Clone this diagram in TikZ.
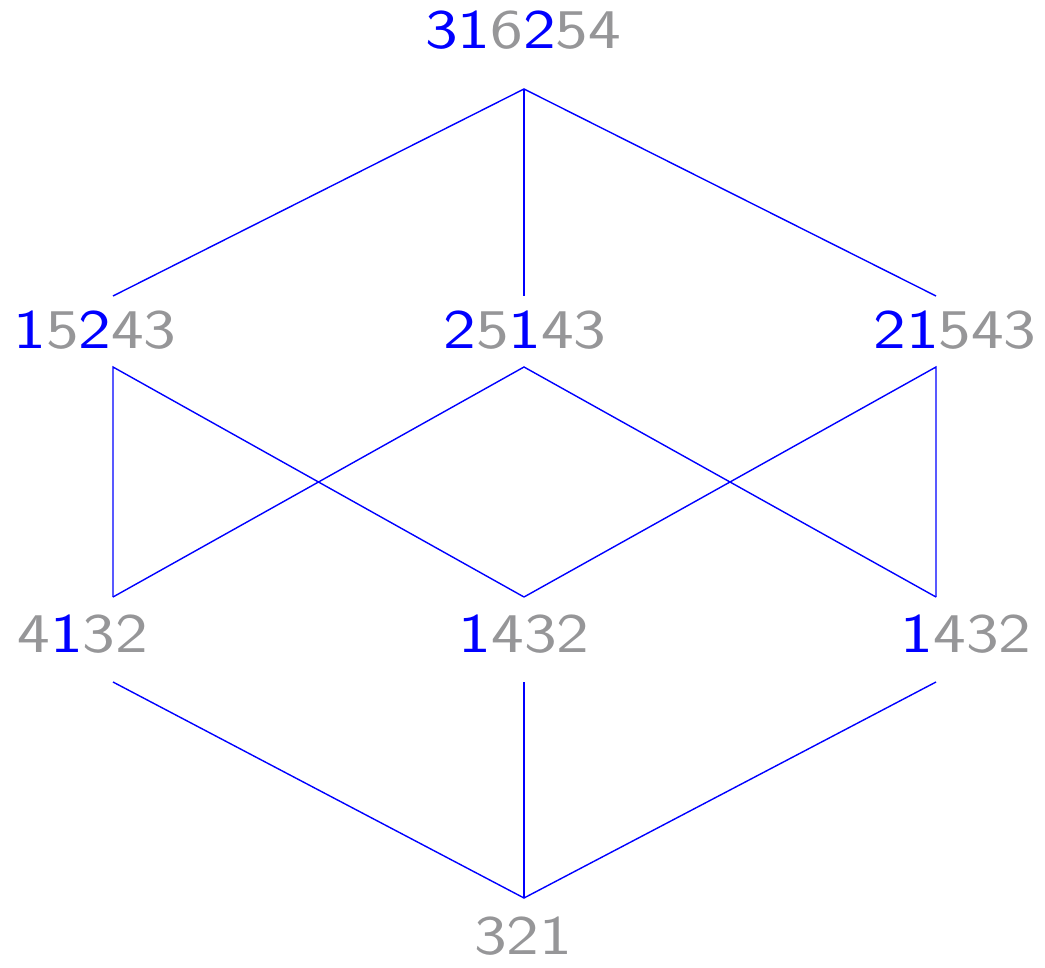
\documentclass[tikz,border=0pt]{standalone}
\usepackage{xcolor}
\usepackage{graphicx}
\definecolor{dg}{RGB}{150,150,152}
\definecolor{bl}{RGB}{0,0,255}
\newcommand{\B}[1]{\textcolor{bl}{#1}}
\newcommand{\G}[1]{\textcolor{dg}{#1}}
\newcommand{\W}[1]{\scalebox{1.24}[1]{#1}}
\begin{document}
\begin{tikzpicture}[x=1pt,y=-1pt,
  lab/.style={anchor=base,inner sep=0pt,font=\sffamily\fontsize{56}{60}\selectfont},
  edge/.style={draw=bl,line width=1.4pt}]
\useasboundingbox (0,0) rectangle (1045,968);
% labels
\node[lab] (t) at (523,49) {\W{\B{31}\G{6}\B{2}\G{54}}};
\node[lab] (a) at (95,349) {\W{\B{1}\G{5}\B{2}\G{43}}};
\node[lab] (b) at (525,349) {\W{\B{2}\G{5}\B{1}\G{43}}};
\node[lab] (c) at (955,349) {\W{\B{21}\G{543}}};
\node[lab] (d) at (83,652) {\W{\G{4}\B{1}\G{32}}};
\node[lab] (e) at (524,652) {\W{\B{1}\G{432}}};
\node[lab] (f) at (966,652) {\W{\B{1}\G{432}}};
\node[lab] (g) at (523,954) {\W{\G{321}}};
% attachment points
\coordinate (tb) at (524,89);
\coordinate (at) at (113,296); \coordinate (ab) at (113,367);
\coordinate (bt) at (524,296); \coordinate (bb) at (524,367);
\coordinate (ct) at (936,296); \coordinate (cb) at (936,367);
\coordinate (dt) at (113,597); \coordinate (db) at (113,682);
\coordinate (et) at (524,597); \coordinate (eb) at (524,682);
\coordinate (ft) at (936,597); \coordinate (fb) at (936,682);
\coordinate (gt) at (524,898);
% edges
\draw[edge] (at) -- (tb) -- (ct);
\draw[edge] (tb) -- (bt);
\draw[edge] (dt) -- (ab) -- (et);
\draw[edge] (dt) -- (bb) -- (ft);
\draw[edge] (et) -- (cb) -- (ft);
\draw[edge] (db) -- (gt) -- (fb);
\draw[edge] (eb) -- (gt);
\end{tikzpicture}
\end{document}
